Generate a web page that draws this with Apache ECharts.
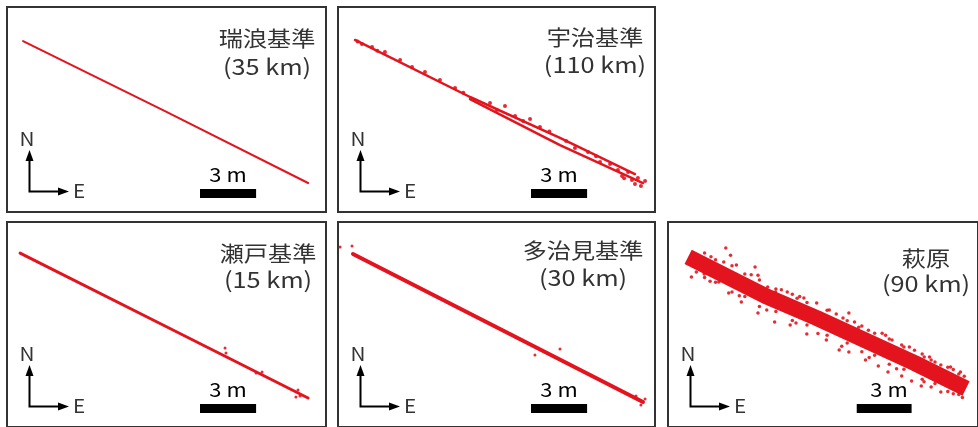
<!DOCTYPE html>
<html>
<head>
<meta charset="utf-8">
<script src="https://cdn.jsdelivr.net/npm/echarts@6/dist/echarts.min.js"></script>
<style>
  html, body { margin: 0; padding: 0; background: #fff; }
  #chart { width: 978px; height: 427px; }
</style>
</head>
<body>
<div id="chart"></div>
<script>
// Horizontal positions (east, north in metres) of the same trajectory,
// solved against five different reference stations.
const stationNames = ['瑞浪基準', '宇治基準', '瀬戸基準', '多治見基準', '萩原'];
const baselineKm = [35, 110, 15, 30, 90];
const scaleLengthM = 3;

// 瑞浪基準
const mizunamiTrack = [[0.86, 9.14], [8.45, 5.39], [16.10, 1.55]];
const mizunamiPoints = [];

// 宇治基準
const ujiTrackNorth = [[0.91, 9.20], [7.06, 6.15], [11.87, 3.96], [15.88, 2.03]];
const ujiTrackSouth = [[7.06, 6.04], [11.87, 3.58], [16.31, 1.55]];
const ujiPoints = [
  [1.28, 8.98], [1.82, 8.82], [2.51, 8.56], [3.32, 8.13], [3.96, 7.75], [4.65, 7.49],
  [5.45, 7.06], [6.26, 6.63], [8.13, 5.83], [8.50, 5.45], [8.93, 5.67], [9.47, 5.13],
  [10.27, 4.97], [10.80, 4.55], [12.67, 3.42], [13.37, 3.21], [14.01, 2.67], [14.55, 2.57],
  [14.97, 2.25], [15.19, 1.93], [15.51, 2.14], [15.72, 1.71], [16.04, 1.82], [16.20, 1.39],
  [16.42, 1.66], [15.88, 1.50], [1.05, 9.12], [2.10, 8.62], [6.70, 6.38], [9.90, 4.86],
  [11.30, 4.30], [12.20, 3.80], [13.80, 2.98], [15.30, 1.80]
];

// 瀬戸基準
const setoTrack = [[0.70, 9.30], [8.45, 5.40], [16.10, 1.55]];
const setoPoints = [[11.66, 4.22], [11.71, 3.96], [13.32, 2.89], [13.64, 2.94], [15.56, 1.98], [15.67, 1.66], [15.45, 1.60]];

// 多治見基準
const tajimiTrack = [[0.80, 9.25], [8.56, 5.29], [16.31, 1.34]];
const tajimiPoints = [[0.11, 9.63], [0.75, 9.68], [10.53, 3.85], [11.87, 4.17], [15.94, 1.66], [16.20, 1.18], [16.42, 1.50]];

// 萩原
const hagiwaraTrack = [[1.10, 9.10], [5.35, 7.00], [8.13, 5.83], [13.48, 3.42], [16.30, 2.06]];
const hagiwaraPoints = [
  [3.16, 9.57], [3.42, 9.19], [3.74, 8.66], [4.76, 8.55], [4.92, 8.12], [5.45, 7.48],
  [5.88, 7.22], [6.52, 7.22], [7.06, 6.89], [7.43, 6.90], [8.13, 6.63], [8.82, 6.26],
  [9.57, 5.83], [9.89, 6.09], [10.43, 5.34], [10.96, 5.18], [11.71, 5.02], [12.25, 4.65],
  [12.78, 4.38], [13.48, 4.11], [14.01, 3.74], [14.39, 3.58], [14.92, 3.31], [15.45, 3.21],
  [15.99, 2.94],
  [2.78, 7.75], [3.32, 7.17], [4.01, 6.68], [4.92, 6.10], [5.83, 5.61], [6.68, 5.45],
  [7.59, 4.97], [8.66, 4.65], [9.36, 4.12], [9.89, 4.01], [10.80, 3.58], [11.50, 3.26],
  [12.03, 2.94], [12.78, 2.73], [13.32, 2.46], [13.85, 2.19], [14.39, 2.14], [14.92, 1.87],
  [1.34, 8.66], [1.55, 8.29], [1.28, 8.02], [1.98, 8.18],
  [2.00, 9.30], [2.60, 8.95], [3.50, 8.62], [4.20, 8.18], [5.00, 7.86], [5.90, 7.38],
  [6.80, 7.10], [7.60, 6.66], [8.70, 6.24], [9.80, 5.68], [10.60, 5.40], [11.30, 5.02],
  [12.10, 4.70], [12.90, 4.28], [13.90, 3.90], [14.60, 3.48], [15.30, 3.20], [15.90, 2.83],
  [2.00, 8.00], [2.60, 7.74], [3.50, 7.22], [4.20, 6.98], [5.00, 6.44], [5.90, 6.18],
  [6.80, 5.70], [7.60, 5.46], [8.70, 4.90], [9.80, 4.49], [10.60, 4.02], [11.30, 3.84],
  [12.10, 3.35], [12.90, 3.09], [13.90, 2.55], [14.60, 2.32], [15.30, 1.90], [15.90, 1.74],
  [2.35, 9.10], [3.05, 8.82], [4.55, 8.14], [6.20, 7.34], [7.20, 6.98], [9.20, 6.04],
  [10.20, 5.62], [11.90, 4.90], [13.20, 4.28], [14.30, 3.74], [15.60, 3.08], [16.20, 2.72],
  [2.30, 7.80], [3.90, 7.02], [5.40, 6.26], [7.00, 5.56], [8.20, 5.00], [9.50, 4.32],
  [11.00, 3.72], [12.50, 3.12], [14.00, 2.42], [15.60, 1.78], [16.10, 1.58]
];

// ---- layout ----
const PX_PER_M = 18.7;
const RED = '#e3141e';
const INK = '#333333';
const panels = [
  { left: 7,   top: 7,   width: 319, height: 205, labelX: 260, labelY: [31, 60] },
  { left: 338, top: 7,   width: 317, height: 205, labelX: 257, labelY: [30, 58] },
  { left: 7,   top: 222, width: 319, height: 205, labelX: 261, labelY: [31, 58] },
  { left: 338, top: 222, width: 317, height: 205, labelX: 245, labelY: [28, 56] },
  { left: 668, top: 222, width: 317, height: 205, labelX: 258, labelY: [36, 62] }
];

const tracks = [
  { lines: [mizunamiTrack], width: 2, cap: 'round', pts: mizunamiPoints, size: 2.5 },
  { lines: [ujiTrackNorth, ujiTrackSouth], width: 2.5, cap: 'round', pts: ujiPoints, size: 4 },
  { lines: [setoTrack], width: 3, cap: 'round', pts: setoPoints, size: 3 },
  { lines: [tajimiTrack], width: 4, cap: 'round', pts: tajimiPoints, size: 3 },
  { lines: [hagiwaraTrack], width: 16, cap: 'butt', pts: hagiwaraPoints, size: 3.5 }
];

const grid = [], xAxis = [], yAxis = [], series = [], graphic = [];
const TXT_SCALE = 1.15;
const cjkFont = '"Noto Sans CJK JP", "Noto Sans", sans-serif';

panels.forEach((p, i) => {
  grid.push({
    left: p.left, top: p.top, width: p.width, height: p.height,
    show: true, borderColor: INK, borderWidth: 2, backgroundColor: '#fff'
  });
  xAxis.push({ type: 'value', gridIndex: i, min: 0, max: p.width / PX_PER_M, show: false });
  yAxis.push({ type: 'value', gridIndex: i, min: 0, max: p.height / PX_PER_M, show: false });

  const t = tracks[i];
  t.lines.forEach(line => {
    series.push({
      type: 'line', xAxisIndex: i, yAxisIndex: i, data: line,
      symbol: 'none', silent: true,
      lineStyle: { color: RED, width: t.width, cap: t.cap, join: 'round' }
    });
  });
  if (t.pts.length) {
    series.push({
      type: 'scatter', xAxisIndex: i, yAxisIndex: i, data: t.pts,
      symbolSize: t.size, silent: true,
      itemStyle: { color: RED, opacity: 0.9 }
    });
  }

  // 3 m scale bar, drawn in axis units
  const sx = 193 / PX_PER_M, sy = 18.5 / PX_PER_M;
  series.push({
    type: 'line', xAxisIndex: i, yAxisIndex: i,
    data: [[sx, sy], [sx + scaleLengthM, sy]],
    symbol: 'none', silent: true,
    lineStyle: { color: '#000', width: 9, cap: 'butt' }
  });

  const bottom = p.top + p.height;
  const cx = p.left + 22.5, cy = bottom - 20.5;

  // station name and baseline length
  graphic.push({
    type: 'text', x: p.left + p.labelX, y: p.top + p.labelY[0], scaleX: TXT_SCALE,
    style: { text: stationNames[i], font: '21px ' + cjkFont, fill: INK, align: 'center', verticalAlign: 'middle' }
  });
  graphic.push({
    type: 'text', x: p.left + p.labelX, y: p.top + p.labelY[1], scaleX: TXT_SCALE,
    style: { text: '(' + baselineKm[i] + ' km)', font: '22px ' + cjkFont, fill: INK, align: 'center', verticalAlign: 'middle' }
  });

  // north / east arrows
  graphic.push({
    type: 'polyline',
    shape: { points: [[cx, bottom - 54], [cx, cy], [p.left + 53, cy]] },
    style: { stroke: '#000', lineWidth: 2, fill: null }
  });
  graphic.push({
    type: 'polygon',
    shape: { points: [[cx, bottom - 62], [cx - 4, bottom - 51], [cx + 4, bottom - 51]] },
    style: { fill: '#000' }
  });
  graphic.push({
    type: 'polygon',
    shape: { points: [[p.left + 62, cy], [p.left + 51, cy - 4], [p.left + 51, cy + 4]] },
    style: { fill: '#000' }
  });
  graphic.push({
    type: 'text', x: p.left + 20, y: bottom - 73, scaleX: TXT_SCALE,
    style: { text: 'N', font: '18px ' + cjkFont, fill: INK, align: 'center', verticalAlign: 'middle' }
  });
  graphic.push({
    type: 'text', x: p.left + 72, y: bottom - 21, scaleX: TXT_SCALE,
    style: { text: 'E', font: '18px ' + cjkFont, fill: INK, align: 'center', verticalAlign: 'middle' }
  });
  graphic.push({
    type: 'text', x: p.left + 221, y: bottom - 37, scaleX: TXT_SCALE,
    style: { text: scaleLengthM + ' m', font: '19px ' + cjkFont, fill: '#000', align: 'center', verticalAlign: 'middle' }
  });
});

const chart = echarts.init(document.getElementById('chart'), null, { renderer: 'canvas' });
chart.setOption({
  animation: false,
  backgroundColor: '#fff',
  grid, xAxis, yAxis, series, graphic
});
</script>
</body>
</html>
